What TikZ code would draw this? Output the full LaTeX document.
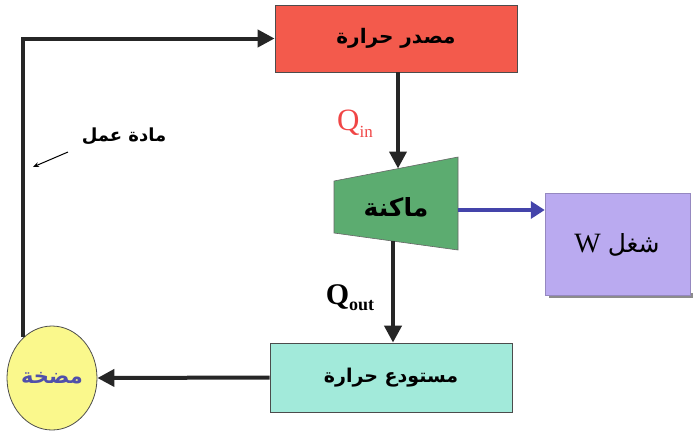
\documentclass[tikz,border=0pt]{standalone}
\usepackage{fontspec}
\usetikzlibrary{arrows.meta,shapes.geometric}
\TeXXeTstate=1
\newfontfamily\arabicfont[Script=Arabic]{DejaVu Sans}
\newfontfamily\serifl{Liberation Serif}
\definecolor{srcred}{RGB}{243,90,76}
\definecolor{engGreen}{RGB}{92,172,112}
\definecolor{workPurple}{RGB}{186,170,240}
\definecolor{sinkTeal}{RGB}{162,234,218}
\definecolor{pumpYellow}{RGB}{250,248,140}
\definecolor{workBlue}{RGB}{68,68,170}
\definecolor{pumpText}{RGB}{80,80,170}
\definecolor{qred}{RGB}{240,70,70}
\tikzset{
  boxnode/.style={draw=black!70, line width=0.8pt, inner sep=0pt},
  flow/.style={line width=4pt, draw=black!85, -{Triangle[length=17pt,width=17pt]}},
  arlabel/.style={font=\arabicfont\bfseries, inner sep=0pt},
}
\begin{document}
\begin{tikzpicture}[x=1pt,y=-1pt]
\useasboundingbox (0,0) rectangle (700,437);
% nodes
\node[boxnode, fill=srcred, minimum width=242pt, minimum height=67pt] (source) at (396,38.5) {};
\node[arlabel, font=\arabicfont\bfseries\fontsize{20}{22}\selectfont] at (396,38) {\beginR مصدر حرارة\endR};
\node[boxnode, fill=sinkTeal, minimum width=242pt, minimum height=69pt] (sink) at (391,377.5) {};
\node[arlabel, font=\arabicfont\bfseries\fontsize{19}{21}\selectfont] at (391,378) {\beginR مستودع حرارة\endR};
% work box with shadow
\fill[black!45] (549,293) rectangle (693,298);
\node[draw=workPurple!80!black, line width=0.5pt, fill=workPurple, minimum width=145pt, minimum height=102pt] (work) at (617.5,244) {};
\node[inner sep=0pt] at (617,245) {\serifl\fontsize{28}{30}\selectfont W\ {\arabicfont\fontsize{25}{27}\selectfont\beginR شغل\endR}};
% pump
\node[draw=black!70, line width=0.8pt, fill=pumpYellow, ellipse, minimum width=90pt, minimum height=104pt, inner sep=0pt] (pump) at (52,378) {};
\node[arlabel, text=pumpText, font=\arabicfont\bfseries\fontsize{21}{23}\selectfont] at (52,378) {\beginR مضخة\endR};
% engine trapezoid
\filldraw[fill=engGreen, draw=black!60, line width=0.6pt] (334,181) -- (458,157) -- (458,250) -- (334,233) -- cycle;
\node[arlabel, font=\arabicfont\bfseries\fontsize{25}{27}\selectfont] (engine) at (396,207) {\beginR ماكنة\endR};
\coordinate (engTop) at (398,168.5);
\coordinate (engBot) at (393,241);
\coordinate (engRight) at (458,210);
% connectors
\draw[flow] (source.south -| engTop) -- (engTop);
\draw[flow] (engBot) -- (engBot |- sink.north);
\draw[flow] (sink.west) -- (pump.east);
\draw[flow] (pump.125) |- (source.west);
\draw[line width=4pt, draw=workBlue, -{Triangle[length=14pt,width=17pt]}] (engRight) -- (engRight -| work.west);
% labels
\node[text=qred, inner sep=0pt] (qin) at (355,124) {\serifl\fontsize{31}{32}\selectfont Q\raisebox{-7pt}{\fontsize{17}{19}\selectfont in}};
\node[inner sep=0pt] (qout) at (350,298) {\serifl\bfseries\fontsize{30}{32}\selectfont Q\raisebox{-6pt}{\fontsize{18}{20}\selectfont out}};
\node[arlabel, font=\arabicfont\bfseries\fontsize{18}{20}\selectfont] (wm) at (124,136) {\beginR مادة عمل\endR};
\coordinate (wmtail) at (68,152);
\coordinate (wmtip) at (33,167);
\draw[line width=1pt, -{Stealth[length=6pt,width=5pt]}] (wmtail) -- (wmtip);
\end{tikzpicture}
\end{document}
